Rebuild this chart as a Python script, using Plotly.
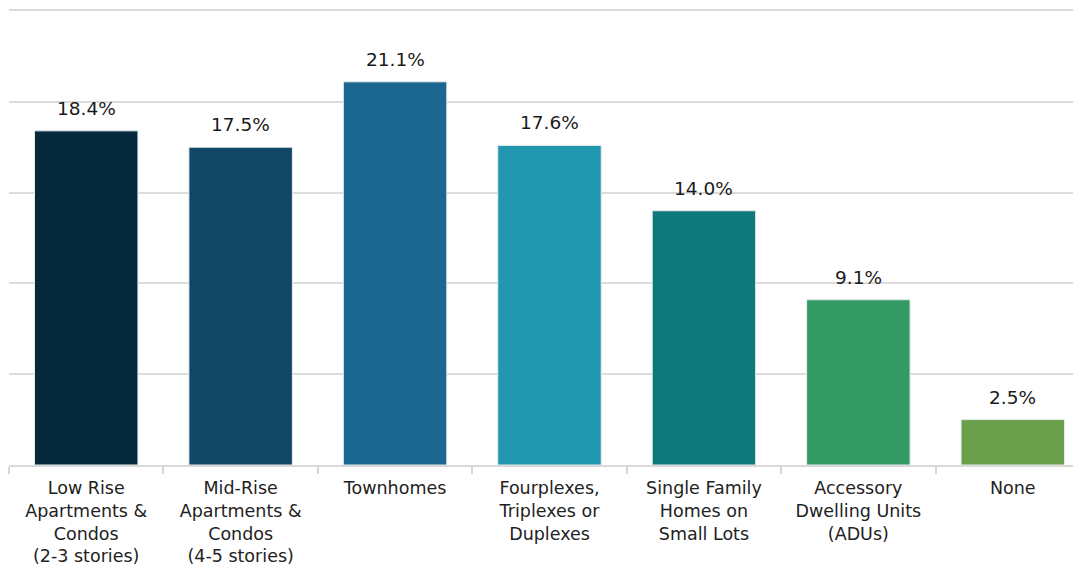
import plotly.graph_objects as go

categories = [
    "Low Rise<br>Apartments &<br>Condos<br>(2-3 stories)",
    "Mid-Rise<br>Apartments &<br>Condos<br>(4-5 stories)",
    "Townhomes",
    "Fourplexes,<br>Triplexes or<br>Duplexes",
    "Single Family<br>Homes on<br>Small Lots",
    "Accessory<br>Dwelling Units<br>(ADUs)",
    "None",
]
values = [18.4, 17.5, 21.1, 17.6, 14.0, 9.1, 2.5]
colors = ["#062a3b", "#0f4764", "#1b6791", "#2097ae", "#0e797a", "#339a63", "#6c9f49"]

FONT = "DejaVu Sans"

fig = go.Figure(
    go.Bar(
        x=categories,
        y=values,
        marker=dict(color=colors, line=dict(color="#e6ecef", width=1)),
        hoverinfo="skip",
    )
)

for c, v in zip(categories, values):
    fig.add_annotation(
        x=c, y=v, text=f"{v:.1f}%", showarrow=False,
        yanchor="bottom", yshift=10,
        font=dict(family=FONT, size=18.5, color="#1a1a1a"),
    )

# page body has an 8px default margin; compensate so the plot sits like the reference
fig.update_layout(
    width=1082, height=561,
    margin=dict(l=1, r=0, t=3, b=104),
    paper_bgcolor="white", plot_bgcolor="white",
    bargap=0.33,
    showlegend=False,
    font=dict(family=FONT, color="#222222"),
)
fig.update_xaxes(
    tickson="boundaries", ticks="outside", ticklen=7, tickcolor="#d6d6d6", tickwidth=1.5,
    showline=True, linecolor="#d9d9d9", linewidth=2, mirror=True,
    tickfont=dict(family=FONT, size=17.5, color="#222222"),
    ticklabelstandoff=6,
    showgrid=False,
)
fig.update_yaxes(
    range=[0, 25], tickvals=[0, 5, 10, 15, 20, 25], showticklabels=False,
    showgrid=True, gridcolor="#dcdcdc", gridwidth=2,
    zeroline=False,
)

fig.write_html("out.html")
